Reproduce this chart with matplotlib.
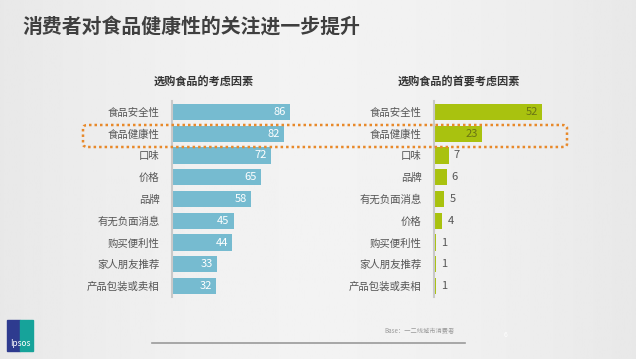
import matplotlib
matplotlib.use('Agg')
import matplotlib.pyplot as plt
from matplotlib.patches import FancyBboxPatch, Rectangle
import numpy as np

plt.rcParams['font.family'] = ['Noto Sans CJK SC', 'DejaVu Sans']

## Données
titre = '消费者对食品健康性的关注进一步提升'
titre_g = '选购食品的考虑因素'
cat_g = ['食品安全性', '食品健康性', '口味', '价格', '品牌', '有无负面消息',
         '购买便利性', '家人朋友推荐', '产品包装或卖相']
val_g = [86, 82, 72, 65, 58, 45, 44, 33, 32]

titre_d = '选购食品的首要考虑因素'
cat_d = ['食品安全性', '食品健康性', '口味', '品牌', '有无负面消息', '价格',
         '购买便利性', '家人朋友推荐', '产品包装或卖相']
val_d = [52, 23, 7, 6, 5, 4, 1, 1, 1]

base = 'Base：一二线城市消费者'

W, H = 636, 359
fig = plt.figure(figsize=(W/100, H/100), dpi=100)
fig.patch.set_facecolor('#ededed')

def px(x0, y0, w, h):
    # position en pixels (origine en haut à gauche) -> fraction de figure
    return [x0/W, 1-(y0+h)/H, w/W, h/H]

# fond dégradé léger
bg = fig.add_axes([0, 0, 1, 1], zorder=-10)
grad = np.linspace(0, 1, 256)[None, :]
bg.imshow(0.91 + 0.04*np.sin(np.pi*grad), cmap='gray', vmin=0, vmax=1,
          aspect='auto', extent=[0, 1, 0, 1])
bg.axis('off')

fig.text(22/W, 1-27/H, titre, fontsize=14.3, fontweight='bold', color='#3f3f3f',
         va='center', ha='left')

def Panneau(pos, cats, vals, xmax, couleur, interne):
    ax = fig.add_axes(pos)
    y = np.arange(len(cats))
    ax.barh(y, vals, height=0.74, color=couleur)
    ax.set_xlim(0, xmax)
    ax.set_ylim(len(cats)-0.5, -0.5)
    ax.set_facecolor('none')
    for s in ['top', 'right', 'bottom']:
        ax.spines[s].set_visible(False)
    ax.spines['left'].set_color('#c9c9c9')
    ax.spines['left'].set_linewidth(1.5)
    ax.set_xticks([])
    ax.set_yticks(y)
    ax.set_yticklabels(cats, fontsize=7.5, color='#555555')
    ax.tick_params(axis='y', length=0, pad=9)
    for i, v in enumerate(vals):
        if interne(v):
            c = '#ffffff' if couleur != '#a9c20f' else '#6a7414'
            ax.text(v - xmax*0.03, i, str(v), ha='right', va='center',
                    fontsize=8, color=c)
        else:
            ax.text(v + xmax*0.04, i, str(v), ha='left', va='center',
                    fontsize=8, color='#555555')
    return ax

Panneau(px(172, 101, 137, 196), cat_g, val_g, 100, '#76bbd0', lambda v: True)
Panneau(px(434, 101, 125, 196), cat_d, val_d, 60, '#a9c20f', lambda v: v > 10)

fig.text(204/W, 1-82/H, titre_g, fontsize=8, fontweight='bold', color='#333333',
         ha='center', va='center')
fig.text(459/W, 1-82/H, titre_d, fontsize=8, fontweight='bold', color='#333333',
         ha='center', va='center')

# cadre pointillé orange
box = FancyBboxPatch((83/W, 1-147/H), (567-83)/W, 22/H,
                     boxstyle='round,pad=0,rounding_size=0.008',
                     transform=fig.transFigure, fill=False,
                     edgecolor='#e8892a', linestyle=(0, (1, 1.2)), linewidth=1.8)
fig.patches.append(box)

# pied de page
fig.add_artist(plt.Line2D([152/W, 465/W], [1-343/H, 1-343/H],
                          transform=fig.transFigure, color='#9a9a9a', lw=1.2))
fig.text(455/W, 1-331/H, base, fontsize=4.5, color='#9a9a9a', ha='right',
         va='center')
fig.text(505/W, 1-335/H, '6', fontsize=5, color='#ffffff', ha='center',
         va='center')

# logo
fig.patches.append(Rectangle((7/W, 1-351/H), 13/W, 31/H,
                             transform=fig.transFigure, color='#2e3b8f'))
fig.patches.append(Rectangle((20/W, 1-351/H), 13/W, 31/H,
                             transform=fig.transFigure, color='#16a39a'))
fig.text(20/W, 1-343/H, 'Ipsos', fontsize=6, color='white', ha='center',
         va='center')

plt.savefig('out.png', dpi=100, facecolor=fig.get_facecolor())
